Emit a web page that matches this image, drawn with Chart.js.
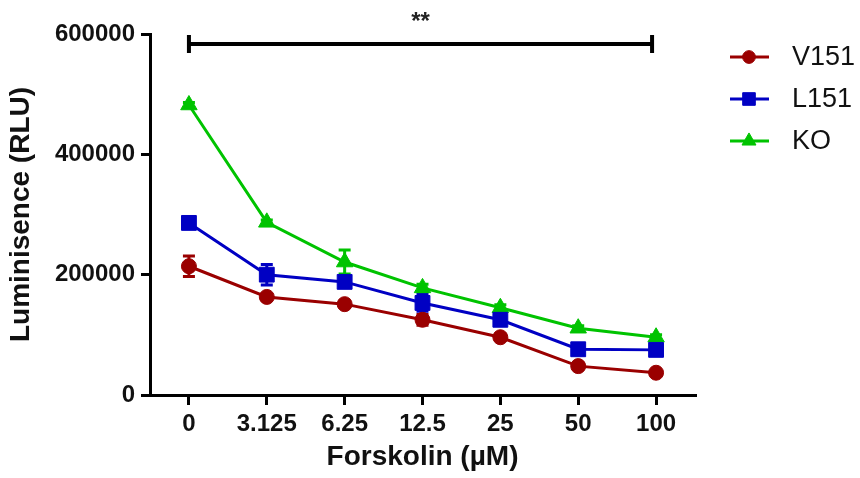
<!DOCTYPE html>
<html>
<head>
<meta charset="utf-8">
<script src="https://cdn.jsdelivr.net/npm/chart.js@4"></script>
<style>
  html, body { margin: 0; padding: 0; background: #fff; }
  #wrap { width: 860px; height: 478px; }
</style>
</head>
<body>
<div id="wrap"><canvas id="result-chart" width="860" height="478"></canvas></div>
<script>
const doses = ["0", "3.125", "6.25", "12.5", "25", "50", "100"];
const y_ticks = [0, 200000, 400000, 600000];

const v151 = [214000, 163000, 151000, 125000, 96000, 48000, 37000];
const v151_err = [17000, 5000, 5000, 9000, 5000, 5000, 4000];
const l151 = [286000, 200000, 188000, 153000, 125000, 76000, 75000];
const l151_err = [4000, 17000, 9000, 14000, 6000, 5000, 5000];
const ko = [482000, 287000, 221000, 178000, 145000, 111000, 96000];
const ko_err = [4000, 4000, 20000, 6000, 5000, 4000, 4000];

const signif = { from: 0, to: 6, value: 585000, label: "**" };

const RED = "rgb(154, 0, 0)";
const BLUE = "rgb(0, 0, 195)";
const GREEN = "rgb(0, 195, 0)";
const FONT = "'Liberation Sans', Arial, sans-serif";

const make_dataset = (label, values, errors, color, style, radius) => {
  return {
    label: label,
    data: values,
    errors: errors,
    borderColor: color,
    backgroundColor: color,
    borderWidth: 3,
    pointStyle: style,
    pointRadius: radius,
    pointHoverRadius: radius,
    pointBorderWidth: 1,
    tension: 0,
  };
};

// error bars, drawn under the markers
const error_bars = {
  id: "error_bars",
  beforeDatasetsDraw(chart) {
    const ctx = chart.ctx;
    const y = chart.scales.y;
    chart.data.datasets.forEach((ds, i) => {
      const meta = chart.getDatasetMeta(i);
      ctx.save();
      ctx.strokeStyle = ds.borderColor;
      ctx.lineWidth = 3;
      meta.data.forEach((pt, j) => {
        const e = ds.errors[j];
        const top = y.getPixelForValue(ds.data[j] + e);
        const bot = y.getPixelForValue(ds.data[j] - e);
        ctx.beginPath();
        ctx.moveTo(pt.x, top);
        ctx.lineTo(pt.x, bot);
        ctx.moveTo(pt.x - 6, top);
        ctx.lineTo(pt.x + 6, top);
        ctx.moveTo(pt.x - 6, bot);
        ctx.lineTo(pt.x + 6, bot);
        ctx.stroke();
      });
      ctx.restore();
    });
  },
};

// significance bracket and custom legend
const extras = {
  id: "extras",
  afterDraw(chart) {
    const ctx = chart.ctx;
    const x = chart.scales.x;
    const y = chart.scales.y;
    const x0 = x.getPixelForValue(signif.from);
    const x1 = x.getPixelForValue(signif.to) - 4;
    const yy = y.getPixelForValue(signif.value) + 1;
    ctx.save();
    ctx.strokeStyle = "#000";
    ctx.lineWidth = 4;
    ctx.beginPath();
    ctx.moveTo(x0, yy);
    ctx.lineTo(x1, yy);
    ctx.moveTo(x0, yy - 9);
    ctx.lineTo(x0, yy + 9);
    ctx.moveTo(x1, yy - 9);
    ctx.lineTo(x1, yy + 9);
    ctx.stroke();
    ctx.fillStyle = "#222";
    ctx.font = "bold 24px " + FONT;
    ctx.textAlign = "center";
    ctx.textBaseline = "middle";
    ctx.fillText(signif.label, (x0 + x1) / 2, yy - 22);

    chart.data.datasets.forEach((ds, i) => {
      const cy = 57 + i * 42;
      ctx.strokeStyle = ds.borderColor;
      ctx.fillStyle = ds.backgroundColor;
      ctx.lineWidth = 3;
      ctx.beginPath();
      ctx.moveTo(730, cy);
      ctx.lineTo(769, cy);
      ctx.stroke();
      ctx.lineWidth = 1;
      Chart.helpers.drawPoint(ctx, {
        pointStyle: ds.pointStyle,
        radius: ds.pointRadius * 0.85,
        borderWidth: 1,
      }, 749, cy);
      ctx.fillStyle = "#111";
      ctx.font = "27px " + FONT;
      ctx.textAlign = "left";
      ctx.fillText(ds.label, 792, cy + 1);
    });
    ctx.restore();
  },
};

const config = {
  type: "line",
  data: {
    labels: doses,
    datasets: [
      make_dataset("V151", v151, v151_err, RED, "circle", 7.5),
      make_dataset("L151", l151, l151_err, BLUE, "rect", 10.5),
      make_dataset("KO", ko, ko_err, GREEN, "triangle", 9.5),
    ],
  },
  options: {
    responsive: false,
    animation: false,
    layout: { padding: { top: 34, right: 165, left: 0, bottom: 0 } },
    plugins: {
      legend: { display: false },
      tooltip: { enabled: false },
    },
    scales: {
      x: {
        type: "category",
        offset: true,
        grid: {
          offset: false,
          drawOnChartArea: false,
          drawTicks: true,
          tickLength: 10,
          color: "#000",
          lineWidth: 3,
        },
        border: { display: true, color: "#000", width: 3 },
        ticks: {
          color: "#111",
          padding: 5,
          font: { family: FONT, size: 24, weight: "bold" },
        },
        title: {
          display: true,
          text: "Forskolin (µM)",
          color: "#111",
          padding: { top: 5 },
          font: { family: FONT, size: 28, weight: "bold" },
        },
        afterFit(scale) {
          scale.height = 83;
        },
      },
      y: {
        min: 0,
        max: 600000,
        afterBuildTicks(scale) {
          scale.ticks = y_ticks.map((v) => ({ value: v }));
        },
        grid: {
          drawOnChartArea: false,
          drawTicks: true,
          tickLength: 9,
          color: "#000",
          lineWidth: 3,
        },
        border: { display: true, color: "#000", width: 3 },
        ticks: {
          color: "#111",
          padding: 6,
          font: { family: FONT, size: 24, weight: "bold" },
          callback: (v) => String(v),
        },
        title: {
          display: true,
          text: "Luminisence (RLU)",
          color: "#111",
          padding: { bottom: 2 },
          font: { family: FONT, size: 28, weight: "bold" },
        },
        afterFit(scale) {
          scale.width = 150;
        },
      },
    },
  },
  plugins: [error_bars, extras],
};

const resultChart = new Chart(document.getElementById("result-chart"), config);
</script>
</body>
</html>
